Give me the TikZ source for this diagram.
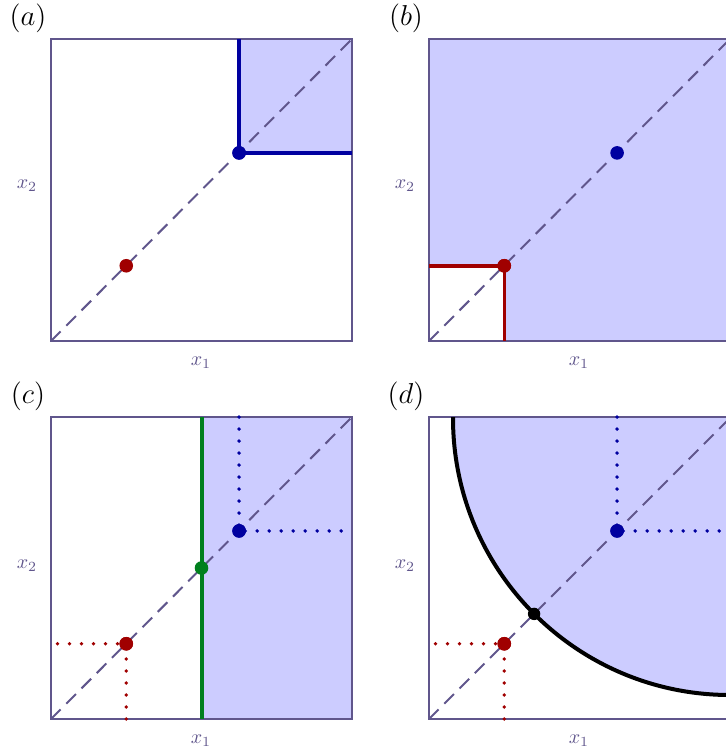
\documentclass[tikz,border=0pt]{standalone}
\definecolor{framecol}{RGB}{96,86,140}
\definecolor{fillcol}{RGB}{204,204,255}
\definecolor{bluecol}{RGB}{0,0,160}
\definecolor{redcol}{RGB}{160,0,0}
\definecolor{greencol}{RGB}{0,128,30}
\begin{document}
\begin{tikzpicture}[x=0.5pt,y=-0.5pt,
 frame/.style={draw=framecol,line width=1pt},
 diag/.style={draw=framecol,line width=1pt,dash pattern=on 6.8pt off 4pt},
 solidline/.style={line width=1.75pt},
 dotline/.style={line width=1.9pt,line cap=round,dash pattern=on 0pt off 6pt},
 ptdot/.style={circle,inner sep=0pt,minimum size=6.8pt},
 axlab/.style={text=framecol,font=\fontsize{10}{12}\selectfont},
 panlab/.style={font=\fontsize{14.4}{16}\selectfont}]
\useasboundingbox (0,0) rectangle (726,756);
\clip (0,0) rectangle (726,756);

% ---------- panel (a)
\fill[fillcol] (239.1,39) rectangle (352,152.9);
\draw[frame] (51,39) rectangle (352,341);
\coordinate (a0) at (51,341); \coordinate (a1) at (352,39);
\draw[diag] (a0) -- (a1);
\coordinate (abt) at (239.1,39); \coordinate (abr) at (352,152.9);
\node[ptdot,fill=bluecol] (ab) at (239.1,152.9) {};
\draw[bluecol,solidline] (abt) -- (ab.center) -- (abr);
\node[ptdot,fill=redcol] (ar) at (126.25,265.75) {};
\node[ptdot,fill=bluecol] at (ab) {};
\node[axlab] (ax1) at (201,363) {$x_1$};
\node[axlab] (ax2) at (27,186) {$x_2$};
\node[panlab] (al) at (28,18) {$(a)$};

% ---------- panel (b)
\fill[fillcol] (429,39) rectangle (730,341);
\fill[white] (429,265.75) rectangle (504.25,341);
\draw[frame] (429,39) rectangle (730,341);
\coordinate (b0) at (429,341); \coordinate (b1) at (730,39);
\draw[diag] (b0) -- (b1);
\coordinate (brl) at (429,265.75); \coordinate (brb) at (504.25,341);
\node[ptdot,fill=redcol] (br) at (504.25,265.75) {};
\draw[redcol,solidline] (brl) -- (br.center) -- (brb);
\node[ptdot,fill=redcol] at (br) {};
\node[ptdot,fill=bluecol] (bb) at (617.1,152.9) {};
\node[axlab] (bx1) at (579,363) {$x_1$};
\node[axlab] (bx2) at (405,186) {$x_2$};
\node[panlab] (bl) at (406,18) {$(b)$};

% ---------- panel (c)
\fill[fillcol] (201.5,417) rectangle (352,719);
\draw[frame] (51,417) rectangle (352,719);
\coordinate (c0) at (51,719); \coordinate (c1) at (352,417);
\draw[diag] (c0) -- (c1);
\node[ptdot,fill=redcol] (cr) at (126.25,643.75) {};
\node[ptdot,fill=bluecol] (cb) at (239.1,530.9) {};
\coordinate (crl) at (51,643.75); \coordinate (crb) at (126.25,719);
\coordinate (cbt) at (239.1,417); \coordinate (cbr) at (352,530.9);
\draw[redcol,dotline] (crb) -- (cr.center) -- (crl);
\draw[bluecol,dotline] (cbt) -- (cb.center) -- (cbr);
\coordinate (cgt) at (201.5,417); \coordinate (cgb) at (201.5,719);
\draw[greencol,line width=2pt] (cgt) -- (cgb);
\node[ptdot,fill=greencol] (cg) at (201.5,568) {};
\node[ptdot,fill=redcol] at (cr) {};
\node[ptdot,fill=bluecol] at (cb) {};
\node[axlab] (cx1) at (201,741) {$x_1$};
\node[axlab] (cx2) at (27,566) {$x_2$};
\node[panlab] (cl) at (28,396) {$(c)$};

% ---------- panel (d)
\begin{scope}
\clip (429,417) rectangle (730,719);
\fill[fillcol] (730,418) circle [radius=277];
\end{scope}
\draw[frame] (429,417) rectangle (730,719);
\coordinate (d0) at (429,719); \coordinate (d1) at (730,418);
\draw[diag] (d0) -- (d1);
\node[ptdot,fill=redcol] (dr) at (504.25,643.75) {};
\node[ptdot,fill=bluecol] (db) at (617.1,530.9) {};
\coordinate (drl) at (429,643.75); \coordinate (drb) at (504.25,719);
\coordinate (dbt) at (617.1,417); \coordinate (dbr) at (730,530.9);
\draw[redcol,dotline] (drb) -- (dr.center) -- (drl);
\draw[bluecol,dotline] (dbt) -- (db.center) -- (dbr);
\begin{scope}
\clip (429,417) rectangle (730,719);
\draw[black,line width=2pt] (730,418) circle [radius=277];
\end{scope}
\node[ptdot,fill=black,minimum size=6.2pt] (dk) at (534.1,613.9) {};
\node[ptdot,fill=redcol] at (dr) {};
\node[ptdot,fill=bluecol] at (db) {};
\node[axlab] (dx1) at (579,741) {$x_1$};
\node[axlab] (dx2) at (405,566) {$x_2$};
\node[panlab] (dl) at (406,396) {$(d)$};
\end{tikzpicture}
\end{document}
